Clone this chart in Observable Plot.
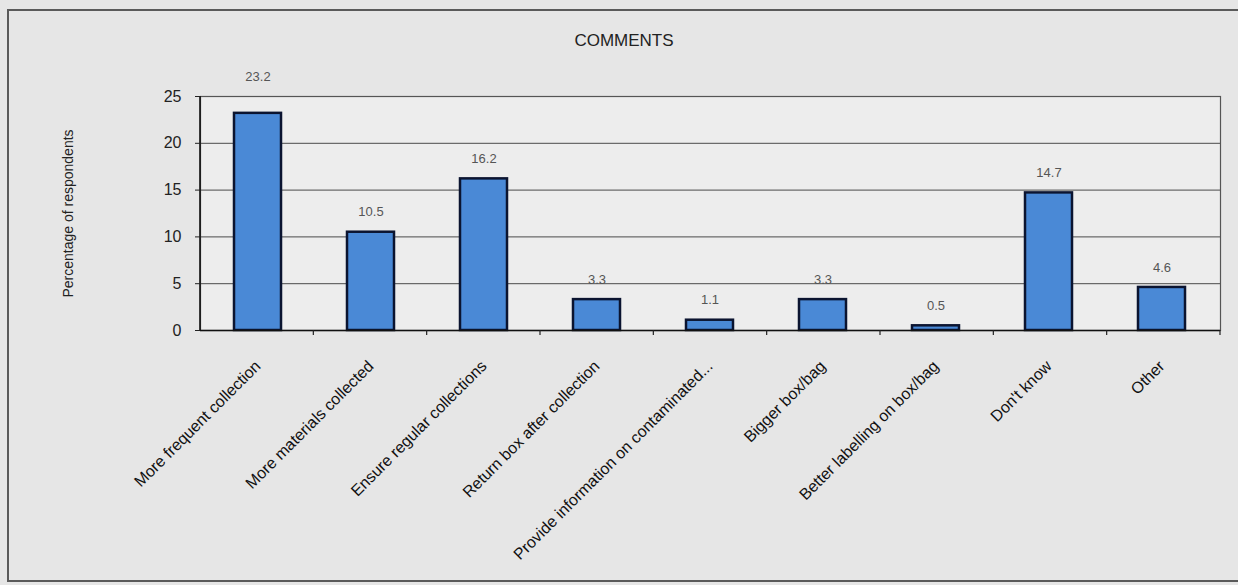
<!DOCTYPE html>
<html><head><meta charset="utf-8">
<script src="https://cdn.jsdelivr.net/npm/d3@7"></script>
<script src="https://cdn.jsdelivr.net/npm/@observablehq/plot@0.6"></script>
<style>
body{margin:0;background:#e6e6e6;font-family:"Liberation Sans",Arial,sans-serif;}
#wrap{position:relative;width:1238px;height:585px;overflow:hidden;}
#box{position:absolute;left:7px;top:9px;width:1250px;height:573px;border:2px solid #5a5a5a;box-sizing:border-box;}
#title{position:absolute;left:0;width:1248px;top:31px;text-align:center;font-size:17px;color:#222;}
#chart{position:absolute;left:0;top:0;}
</style></head>
<body>
<div id="wrap"><div id="box"></div><div id="title"></div><div id="chart"></div></div>
<script>
const title = "COMMENTS";
const yLabel = "Percentage of respondents";
const categories = [
  "More frequent collection",
  "More materials collected",
  "Ensure regular collections",
  "Return box after collection",
  "Provide information on contaminated...",
  "Bigger box/bag",
  "Better labelling on box/bag",
  "Don't know",
  "Other"
];
const values = [23.2, 10.5, 16.2, 3.3, 1.1, 3.3, 0.5, 14.7, 4.6];
const yTicks = [0, 5, 10, 15, 20, 25];

const data = categories.map((c, i) => ({category: c, value: values[i]}));
document.getElementById("title").textContent = title;

// small tick marks at category boundaries + left axis line
const boundaryTicks = (index, scales, vals, dims) => {
  const g = d3.create("svg:g");
  const n = categories.length;
  const step = (dims.width - dims.marginLeft - dims.marginRight) / n;
  const y0 = dims.height - dims.marginBottom;
  for (let k = 1; k <= n; k++) {
    const x = dims.marginLeft + k * step;
    g.append("line").attr("x1", x).attr("x2", x).attr("y1", y0).attr("y2", y0 + 5)
      .attr("stroke", "#222").attr("stroke-width", 1.2);
  }
  g.append("line").attr("x1", dims.marginLeft).attr("x2", dims.marginLeft)
    .attr("y1", dims.marginTop).attr("y2", y0).attr("stroke", "#111").attr("stroke-width", 1.6);
  return g.node();
};

// labels that would collide with the top border are lifted above it (as in the original)
const fitsInside = d => d.value <= 21;
const labelStyle = {x: "category", y: "value", text: d => d.value.toFixed(1), lineAnchor: "middle", fontSize: 13, fill: "#555"};

const chart = Plot.plot({
  width: 1238,
  height: 585,
  marginLeft: 200,
  marginRight: 18,
  marginTop: 96,
  marginBottom: 255,
  style: {background: "transparent", fontFamily: "'Liberation Sans', Arial, sans-serif", color: "#222"},
  x: {type: "band", domain: categories, paddingInner: 0.58, paddingOuter: 0.29},
  y: {domain: [0, 25]},
  marks: [
    Plot.frame({fill: "#ededed", stroke: null}),
    Plot.gridY(yTicks.filter(t => t > 0), {stroke: "#4a4a4a", strokeOpacity: 1, strokeWidth: 1}),
    Plot.frame({stroke: "#555", strokeWidth: 1.2}),
    Plot.barY(data, {x: "category", y: "value", fill: "#4a89d6", stroke: "#0b1430", strokeWidth: 2.5}),
    Plot.ruleY([0], {stroke: "#111", strokeWidth: 1.6}),
    boundaryTicks,
    Plot.text(data.filter(fitsInside), {...labelStyle, dy: -20}),
    Plot.text(data.filter(d => !fitsInside(d)), {...labelStyle, dy: -37}),
    Plot.axisY({ticks: yTicks, tickSize: 5, tickPadding: 14, fontSize: 16, label: null, tickFormat: d => String(d)}),
    Plot.axisX({tickRotate: -45, tickSize: 0, tickPadding: 33, fontSize: 16, label: null, fill: "#111"}),
    Plot.text([yLabel], {frameAnchor: "left", rotate: -90, dx: -132, textAnchor: "middle", fontSize: 14, fill: "#222"})
  ]
});
document.getElementById("chart").appendChild(chart);
</script>
</body></html>
